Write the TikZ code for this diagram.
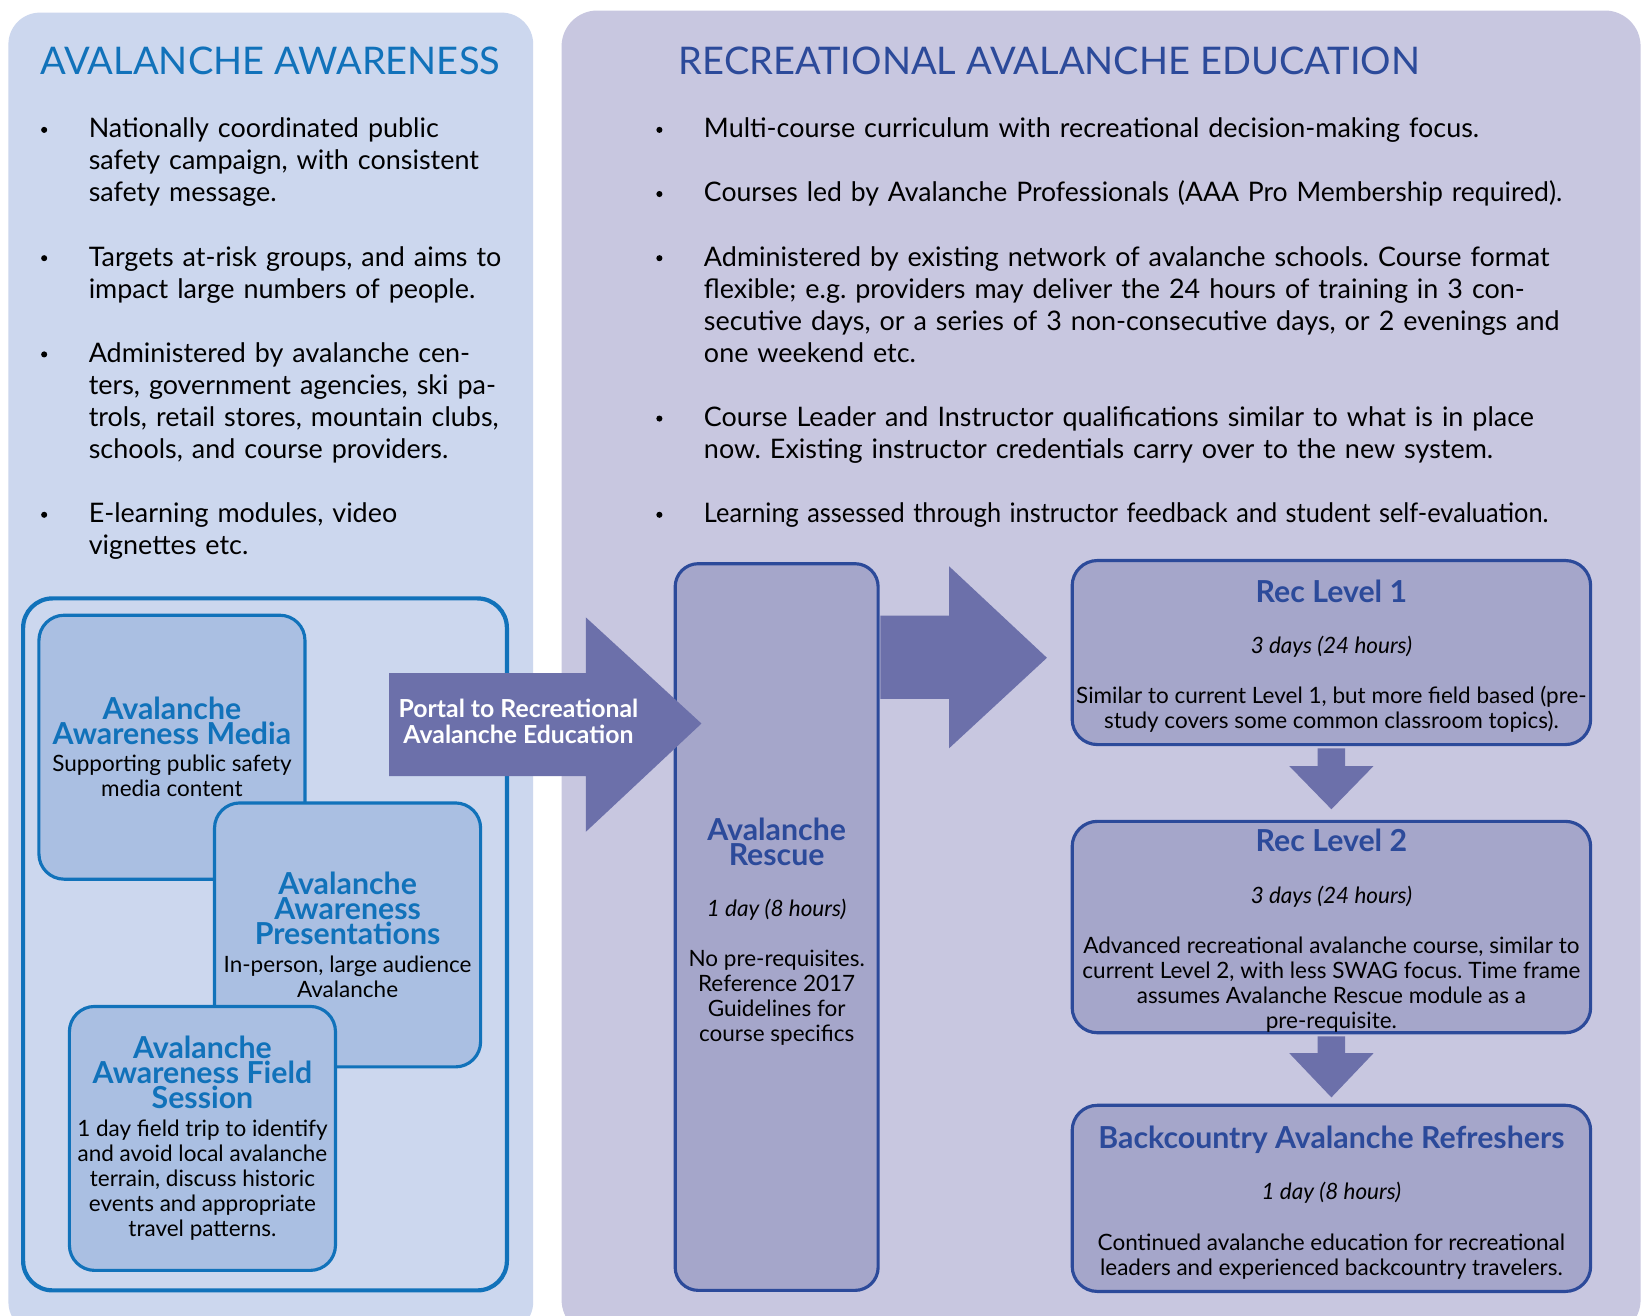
\documentclass[tikz,border=0pt]{standalone}
\usepackage{fontspec}
\setmainfont{Lato}

\definecolor{awBg}{HTML}{CCD7EE}
\definecolor{recBg}{HTML}{C8C7E0}
\definecolor{awFill}{HTML}{AABFE2}
\definecolor{awLine}{HTML}{1172BA}
\definecolor{recFill}{HTML}{A5A6CA}
\definecolor{recLine}{HTML}{2C4A9A}
\definecolor{arrowFill}{HTML}{6C70AA}

\newcommand\titlefont{\fontsize{18.1}{20}\selectfont}
\newcommand\bodyfont{\fontsize{12.8}{15.25}\selectfont\frenchspacing}
\newcommand\boxfont{\fontsize{10.7}{11.9}\selectfont\lineskiplimit=-\maxdimen\frenchspacing}
\newcommand\awhead[1]{{\fontsize{14.4}{12}\selectfont\bfseries\color{awLine}#1}}
\newcommand\rechead[1]{{\fontsize{14.4}{12}\selectfont\bfseries\color{recLine}#1}}
\newcommand\recdur[1]{{\itshape #1}}

\begin{document}
\begin{tikzpicture}[x=0.5pt, y=-0.5pt,
    bulletdot/.style={circle, fill=black, inner sep=0pt, minimum size=2.9pt},
    bulletitem/.style={anchor=base west, inner sep=0pt, align=left,
      text width=#1, font=\bodyfont},
    awbox/.style={draw=awLine, fill=awFill, line width=1.5pt, rounded corners=12pt,
      minimum width=126.5pt, minimum height=125.5pt, inner sep=0pt,
      align=center, font=\boxfont},
    recbox/.style={draw=recLine, fill=recFill, line width=1.5pt, rounded corners=12pt,
      minimum width=246.5pt},
    rectext/.style={inner sep=0pt, align=center, font=\boxfont},
    blockarrow/.style={fill=arrowFill},
  ]
  \clip (0,0) rectangle (1568,1251);
  \fill[white] (0,0) rectangle (1568,1251);

  % the two columns
  \fill[awBg, rounded corners=15pt] (8,12) rectangle (507,1268);
  \fill[recBg, rounded corners=17pt] (534,10) rectangle (1560,1270);

  \node[anchor=base west, inner sep=0pt, font=\titlefont, text=awLine] (aw-title)
    at (38,71) {AVALANCHE AWARENESS};
  \node[anchor=base west, inner sep=0pt, font=\titlefont, text=recLine] (rec-title)
    at (645,71) {RECREATIONAL AVALANCHE EDUCATION};

  % bullet lists, one text line = 30.5
  \foreach \n/\txt [count=\i] in {
      0/{Nationally coordinated public\\safety campaign, with consistent\\safety message.},
      4/{Targets at-risk groups, and aims to\\impact large numbers of people.},
      7/{Administered by avalanche cen-\\ters, government agencies, ski pa-\\trols, retail stores, mountain clubs,\\schools, and course providers.},
      12/{E-learning modules, video\\vignettes etc.}}{
    \node[bulletdot] (aw-dot-\i) at (42,123.5+30.5*\n) {};
    \node[bulletitem=270pt] (aw-item-\i) at (84,131+30.5*\n) {\txt};
  }
  \foreach \n/\txt [count=\i] in {
      0/{Multi-course curriculum with recreational decision-making focus.},
      2/{\scalebox{0.987}[1]{Courses led by Avalanche Professionals (AAA Pro Membership required).}},
      4/{Administered by existing network of avalanche schools. Course format\\flexible; e.g. providers may deliver the 24 hours of training in 3 con-\\secutive days, or a series of 3 non-consecutive days, or 2 evenings and\\one weekend etc.},
      9/{Course Leader and Instructor qualifications similar to what is in place\\now. Existing instructor credentials carry over to the new system.},
      12/{\scalebox{0.942}[1]{Learning assessed through instructor feedback and student self-evaluation.}}}{
    \node[bulletdot] (rec-dot-\i) at (627,123.5+30.5*\n) {};
    \node[bulletitem=470pt] (rec-item-\i) at (669,131+30.5*\n) {\txt};
  }

  % awareness products
  \draw[awLine, line width=2pt, rounded corners=14pt] (22,569) rectangle (482,1227);
  \node[awbox] (media) at (163.5,710.5)
    {\awhead{Avalanche}\\\awhead{Awareness Media}\\[1pt]Supporting public safety\\media content};
  \node[awbox] (pres) at (330.5,889)
    {\awhead{Avalanche}\\\awhead{Awareness}\\\awhead{Presentations}\\[1.5pt]In-person, large audience\\Avalanche};
  \node[awbox] (field) at (192.5,1082.5)
    {\awhead{Avalanche}\\\awhead{Awareness Field}\\\awhead{Session}\\[1.5pt]1 day field trip to identify\\and avoid local avalanche\\terrain, discuss historic\\events and appropriate\\travel patterns.};

  % recreational courses: frames, then their texts
  \node[recbox, rounded corners=11pt, minimum width=96.5pt, minimum height=345.5pt] (rescue)
    at (738.5,881.5) {};
  \node[recbox, minimum height=87.5pt] (lvl1) at (1266,620.5) {};
  \node[recbox, minimum height=100.5pt] (lvl2) at (1266,881.5) {};
  \node[recbox, minimum height=88.5pt] (refresh) at (1266,1139.5) {};

  \node[rectext] (rescue-text) at (738.5,886)
    {\rechead{Avalanche}\\\rechead{Rescue}\\[12.5pt]\recdur{1 day (8 hours)}\\[12pt]No pre-requisites.\\Reference 2017\\Guidelines for\\course specifics};
  \node[rectext] (lvl1-text) at (1266,624)
    {\rechead{Rec Level 1}\\[12.5pt]\recdur{3 days (24 hours)}\\[12pt]Similar to current Level 1, but more field based (pre-\\study covers some common classroom topics).};
  \node[rectext] (lvl2-text) at (1266,885)
    {\rechead{Rec Level 2}\\[12.5pt]\recdur{3 days (24 hours)}\\[12pt]Advanced recreational avalanche course, similar to\\current Level 2, with less SWAG focus. Time frame\\assumes Avalanche Rescue module as a\\pre-requisite.};
  \node[rectext] (refresh-text) at (1266,1143.5)
    {\rechead{Backcountry Avalanche Refreshers}\\[12.5pt]\recdur{1 day (8 hours)}\\[12pt]Continued avalanche education for recreational\\leaders and experienced backcountry travelers.};

  % block arrows
  \fill[blockarrow] (rescue.north east) ++(0.5,51) -- ++(65.5,0) -- ++(0,-47)
    -- ++(93,87) -- ++(-93,86) -- ++(0,-47) -- ++(-65.5,0) -- cycle;
  \fill[blockarrow] (lvl1.south) ++(-13,2) -- ++(0,17) -- ++(-27,0)
    -- ++(40,41) -- ++(40,-41) -- ++(-27,0) -- ++(0,-17) -- cycle;
  \fill[blockarrow] (lvl2.south) ++(-13,2) -- ++(0,16) -- ++(-27,0)
    -- ++(40,42) -- ++(40,-42) -- ++(-27,0) -- ++(0,-16) -- cycle;
  \coordinate (portal-tip) at (667,688);
  \fill[blockarrow] (portal-tip) -- ++(-110,-101) -- ++(0,53) -- ++(-187,0)
    -- ++(0,98) -- ++(187,0) -- ++(0,53) -- cycle;
  \node[align=center, text=white, font=\fontsize{11.8}{12}\selectfont\bfseries] (portal)
    at (493,686) {Portal to Recreational\\Avalanche Education};
\end{tikzpicture}
\end{document}
